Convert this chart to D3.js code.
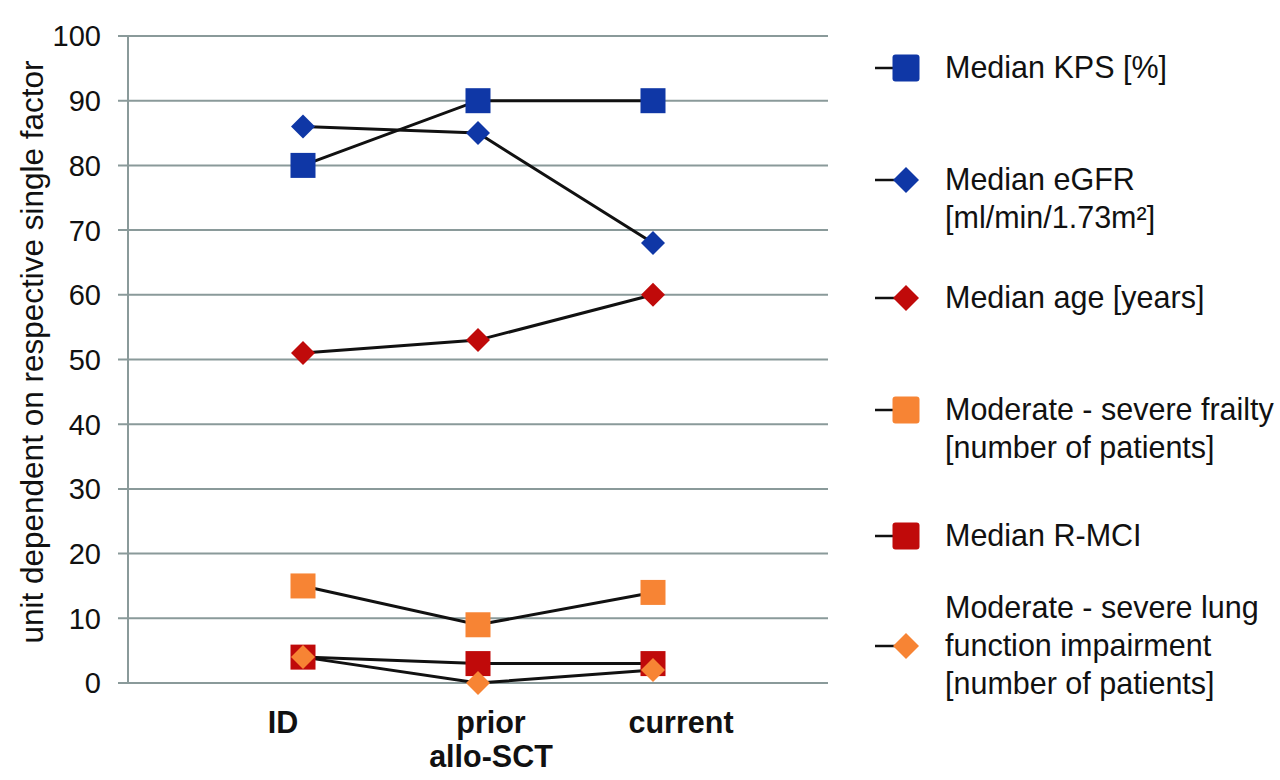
<!DOCTYPE html>
<html><head><meta charset="utf-8">
<script src="https://cdn.jsdelivr.net/npm/d3@7"></script>
<style>body{margin:0;background:#fff}svg{display:block}</style>
</head><body><svg id="c" width="1280" height="780"></svg>
<script>
const categories = ["ID", "prior\nallo-SCT", "current"];
const kps = [80, 90, 90];
const egfr = [86, 85, 68];
const age = [51, 53, 60];
const frailty = [15, 9, 14];
const rmci = [4, 3, 3];
const lung = [4, 0, 2];
const yTicks = [0,10,20,30,40,50,60,70,80,90,100];

const series = [
  {name:["Median KPS [%]"], values:kps, color:"#0f37a6", shape:"square"},
  {name:["Median eGFR","[ml/min/1.73m²]"], values:egfr, color:"#0f37a6", shape:"diamond"},
  {name:["Median age [years]"], values:age, color:"#c00a0a", shape:"diamond"},
  {name:["Moderate - severe frailty","[number of patients]"], values:frailty, color:"#f78434", shape:"square"},
  {name:["Median R-MCI"], values:rmci, color:"#c00a0a", shape:"square"},
  {name:["Moderate - severe lung","function impairment","[number of patients]"], values:lung, color:"#f78434", shape:"diamond", markLine:1}
];

(function(){
const legendY = [68, 180, 298, 410, 536, 646];
const labelNudge = [-20, 13, 28];
const svg = d3.select("#c");
const pL = 128, pR = 828, pT = 36, pB = 683;
const x = d3.scalePoint().domain(categories).range([pL, pR]).padding(1);
const y = d3.scaleLinear().domain([0,100]).range([pB, pT]);
const gridColor = "#8a9a9a";
const font = "Liberation Sans, Arial, sans-serif";

svg.append("g").selectAll("line").data(yTicks).join("line")
  .attr("x1", pL-10).attr("x2", pR).attr("y1", d=>y(d)).attr("y2", d=>y(d))
  .attr("stroke", gridColor).attr("stroke-width", 2);
svg.append("line").attr("x1", pL).attr("x2", pL).attr("y1", pT).attr("y2", pB)
  .attr("stroke", gridColor).attr("stroke-width", 2);
svg.append("g").selectAll("text").data(yTicks).join("text")
  .attr("x", 101).attr("y", d=>y(d)).attr("dy", "0.36em").attr("text-anchor","end")
  .attr("font-family",font).attr("font-size", 29).attr("fill","#111")
  .text(d=>d);
svg.append("text").attr("transform", `translate(43,352) rotate(-90)`)
  .attr("text-anchor","middle").attr("font-family",font)
  .attr("font-size", 31.5).attr("fill","#111").text("unit dependent on respective single factor");
const xl = svg.append("g").selectAll("text").data(categories).join("text")
  .attr("y", 733).attr("text-anchor","middle")
  .attr("font-family",font)
  .attr("font-weight","bold").attr("font-size", 30.5).attr("fill","#111");
xl.each(function(d,k){
  const t = d3.select(this);
  d.split("\n").forEach((s,i)=>t.append("tspan").attr("x", x(d)+labelNudge[k]).attr("dy", i===0?0:34).text(s));
});

function marker(g, cx, cy, s, color, shape, rx){
  if(shape==="square"){
    g.append("rect").attr("x", cx-s/2).attr("y", cy-s/2).attr("width", s).attr("height", s)
      .attr("rx", rx||0).attr("fill", color);
  } else {
    const h = s/2;
    g.append("path").attr("d", `M${cx},${cy-h}L${cx+h},${cy}L${cx},${cy+h}L${cx-h},${cy}Z`)
      .attr("fill", color);
  }
}

const line = d3.line().x((d,i)=>x(categories[i])).y(d=>y(d));
series.forEach(s=>{
  svg.append("path").attr("d", line(s.values)).attr("fill","none").attr("stroke","#111").attr("stroke-width",3);
});
series.forEach(s=>{
  const g = svg.append("g");
  s.values.forEach((v,i)=> marker(g, x(categories[i]), y(v), s.shape==="square"?25:24, s.color, s.shape));
});

series.forEach((s,k)=>{
  const my = legendY[k];
  const g = svg.append("g");
  g.append("line").attr("x1",875).attr("x2",900).attr("y1",my).attr("y2",my).attr("stroke","#111").attr("stroke-width",2.5);
  marker(g, 906, my, s.shape==="square"?27:26, s.color, s.shape, 3);
  const ml = s.markLine||0;
  s.name.forEach((t,i)=>{
    g.append("text").attr("x",945).attr("y", my + (i-ml)*38).attr("dy","0.33em")
      .attr("font-family",font).attr("font-size",30.5).attr("fill","#111").text(t);
  });
});
})();
</script></body></html>
